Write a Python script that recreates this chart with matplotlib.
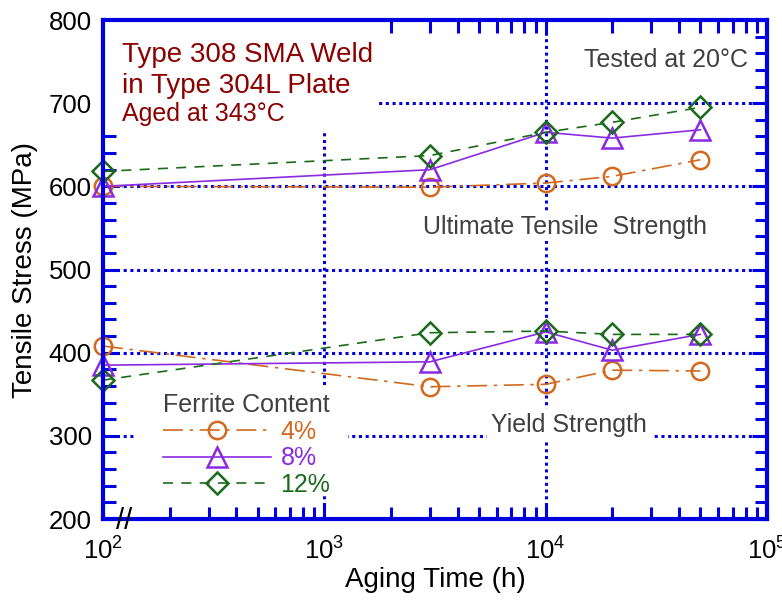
import matplotlib
matplotlib.use("Agg")
import matplotlib.pyplot as plt
from matplotlib.patches import Rectangle
from matplotlib.ticker import LogLocator, FixedLocator, MultipleLocator, NullFormatter

plt.rcParams['font.family'] = ['Liberation Sans', 'DejaVu Sans']

# ---------------- data ----------------
hours = [100, 3000, 10000, 20000, 50000]
uts_4 = [600, 599, 604, 612, 632]
uts_8 = [600, 620, 665, 658, 668]
uts_12 = [618, 637, 665, 677, 695]
ys_4 = [408, 359, 362, 379, 378]
ys_8 = [385, 389, 425, 403, 422]
ys_12 = [367, 424, 426, 422, 422]
labels = ['4%', '8%', '12%']
xtick_vals = [1e2, 1e3, 1e4, 1e5]
xtick_labels = ['$\\mathregular{10^2}$', '$\\mathregular{10^3}$',
                '$\\mathregular{10^4}$', '$\\mathregular{10^5}$']
ytick_vals = [200, 300, 400, 500, 600, 700, 800]

c4 = '#D2691E'
c8 = '#8A2BE2'
c12 = '#1A6B1A'
blue = '#0000E0'
gray = '#404040'
red = '#8B0000'

fig = plt.figure(figsize=(7.82, 6.01), dpi=100)
ax = fig.add_axes([0.1317, 0.1364, 0.8491, 0.8303])
ax.set_xscale('log')
ax.set_xlim(1e2, 1e5)
ax.set_ylim(200, 800)

# grid lines (dotted blue)
gkw = dict(color=blue, linestyle=(0, (1, 1.2)), linewidth=2.2, zorder=1)
for yv in [300, 400, 500, 600, 700]:
    ax.axhline(yv, **gkw)
for xv in [1e3, 1e4]:
    ax.axvline(xv, **gkw)

# white boxes behind the title text and the legend
ax.add_patch(Rectangle((0, 0.7735), 0.414, 0.2265, transform=ax.transAxes,
                       facecolor='white', edgecolor='none', zorder=2))
ax.add_patch(Rectangle((0.0512, 0.05), 0.318, 0.2125, transform=ax.transAxes,
                       facecolor='white', edgecolor='none', zorder=2))

styles = [
    (uts_4, ys_4, c4, (0, (12, 4, 2, 4)), 'o', 12.5),
    (uts_8, ys_8, c8, '-', '^', 14),
    (uts_12, ys_12, c12, (0, (6, 5)), 'D', 11),
]
handles = []
for (u, y, c, ls, m, ms), lab in zip(styles, labels):
    kw = dict(color=c, linestyle=ls, linewidth=1.2, marker=m, markersize=ms,
              markerfacecolor='none', markeredgecolor=c, markeredgewidth=1.8,
              zorder=5, clip_on=False)
    h, = ax.plot(hours, u, label=lab, **kw)
    ax.plot(hours, y, **kw)
    handles.append(h)

# spines and ticks
for s in ax.spines.values():
    s.set_color(blue)
    s.set_linewidth(3)
    s.set_zorder(6)
ax.xaxis.set_major_locator(FixedLocator(xtick_vals))
ax.set_xticklabels(xtick_labels)
ax.xaxis.set_minor_locator(LogLocator(base=10, subs=range(2, 10)))
ax.xaxis.set_minor_formatter(NullFormatter())
ax.yaxis.set_major_locator(FixedLocator(ytick_vals))
ax.yaxis.set_minor_locator(MultipleLocator(20))
ax.tick_params(which='both', direction='in', top=True, right=True, color=blue,
               width=2.2, labelsize=18.5, labelcolor='black')
ax.tick_params(which='major', length=11, pad=8)
ax.tick_params(which='minor', length=9)
ax.tick_params(axis='x', which='major', pad=13)

ax.set_xlabel('Aging Time (h)', fontsize=20, labelpad=2)
ax.set_ylabel('Tensile Stress (MPa)', fontsize=20, labelpad=8)

# annotations
ax.text(0.029, 0.955, 'Type 308 SMA Weld\nin Type 304L Plate', transform=ax.transAxes,
        fontsize=20, color=red, va='top', ha='left', linespacing=1.22, zorder=7)
ax.text(0.029, 0.787, 'Aged at 343°C', transform=ax.transAxes,
        fontsize=18, color=red, va='bottom', ha='left', zorder=7)
ax.text(0.971, 0.92, 'Tested at 20°C', transform=ax.transAxes,
        fontsize=18, color=gray, va='center', ha='right', zorder=7)
ax.text(0.482, 0.585, 'Ultimate Tensile  Strength', transform=ax.transAxes,
        fontsize=18, color=gray, va='center', ha='left', zorder=7,
        bbox=dict(facecolor='white', edgecolor='none', pad=1))
ax.text(0.585, 0.188, 'Yield Strength', transform=ax.transAxes,
        fontsize=18, color=gray, va='center', ha='left', zorder=7,
        bbox=dict(facecolor='white', edgecolor='none', pad=3))
ax.text(0.032, -0.004, '//', transform=ax.transAxes, fontsize=21, color='black',
        va='center', ha='center', zorder=8)

leg = ax.legend(handles=handles, title='Ferrite Content', loc='upper left',
                bbox_to_anchor=(0.083, 0.262), fontsize=18, title_fontsize=18,
                frameon=False, handlelength=4.3, handletextpad=0.4,
                labelspacing=0.1, borderpad=0.2, borderaxespad=0)
leg.get_title().set_color(gray)
for t, c in zip(leg.get_texts(), [c4, c8, c12]):
    t.set_color(c)
leg.set_zorder(4)

fig.savefig('out.png', dpi=100)
